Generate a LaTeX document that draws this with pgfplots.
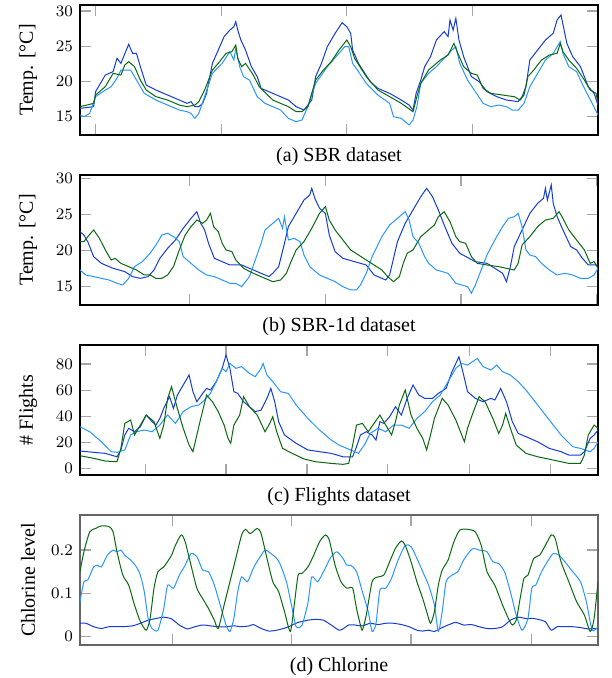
\documentclass[border=0pt]{standalone}
\usepackage{fontspec}
\setmainfont{Liberation Serif}
\usepackage{pgfplots}
\pgfplotsset{compat=1.18}
\definecolor{dblue}{RGB}{20,60,215}
\definecolor{lblue}{RGB}{40,150,255}
\definecolor{dgreen}{RGB}{10,105,15}
\pgfplotsset{panel/.style={
  scale only axis, width=259pt, height=65pt,
  xmin=205, xmax=1535,
  xticklabel=\empty,
  tick align=inside,
  major tick length=5.3pt,
  tick style={gray!70, line width=0.6pt},
  axis line style={line width=0.6pt},
  tick label style={font=\fontsize{8}{9}\selectfont},
  label style={font=\fontsize{10.4}{12}\selectfont},
  every axis y label/.style={at={(axis description cs:0,0.5)}, xshift=-26pt, rotate=90, anchor=center},
  every axis x label/.style={at={(axis description cs:0.5,0)}, yshift=-11pt, anchor=center},
  scaled y ticks=false,
  every axis plot/.append style={line width=0.5pt, no markers},
}}
\begin{document}
\begin{tikzpicture}
\path[use as bounding box] (-40pt,2.5pt) rectangle (265.5pt,-336.5pt);
% ---------------- (a)
\begin{axis}[panel, at={(0,0)}, anchor=north west,
  ymin=12.4, ymax=30.85, ytick={15,20,25,30},
  xtick={245,568,890,1213,1535},
  ylabel={Temp. [°C]}, xlabel={(a) SBR dataset}]
\addplot[dblue] coordinates {
(205,16.18)(240,16.42)(245,18.55)(270,20.91)(290,21.39)(300,23.28)(310,22.57)(330,25.27)(340,23.99)(350,23.99)
(360,22.10)(375,19.49)(400,18.78)(430,18.07)(460,17.36)(480,16.89)(490,17.13)(500,16.42)(510,16.42)(520,16.89)
(530,18.31)(545,22.57)(560,24.46)(575,26.36)(590,27.30)(600,27.77)(605,28.48)(610,27.30)(618,25.88)(630,24.46)
(645,22.10)(660,20.68)(670,19.02)(700,18.31)(740,17.36)(760,16.42)(780,15.94)(800,17.36)(810,20.68)(825,22.57)
(840,24.94)(860,26.83)(878,28.34)(890,27.77)(900,26.83)(905,24.46)(920,22.57)(950,19.97)(970,19.02)(1000,18.31)
(1030,17.36)(1050,16.65)(1060,15.94)(1068,18.31)(1080,20.20)(1090,22.10)(1105,23.52)(1120,25.88)(1140,27.07)(1150,26.36)
(1155,28.72)(1163,27.30)(1170,28.96)(1178,25.88)(1190,23.52)(1210,20.68)(1230,19.97)(1250,18.55)(1275,17.84)(1300,17.36)
(1330,17.13)(1340,17.84)(1350,19.26)(1360,23.04)(1380,24.46)(1400,25.88)(1420,26.83)(1430,28.72)(1440,29.43)(1448,27.30)
(1455,25.41)(1470,23.52)(1490,22.10)(1510,19.26)(1525,18.31)(1535,16.65)};
\addplot[lblue] coordinates {
(205,15.24)(215,15.00)(230,15.47)(245,17.84)(270,18.78)(285,19.26)(300,20.44)(310,21.62)(320,21.62)(335,21.62)
(350,20.20)(370,18.31)(400,17.36)(430,16.65)(460,15.94)(480,15.71)(490,15.47)(500,14.76)(510,15.47)(525,17.84)
(545,21.15)(570,22.57)(590,24.23)(600,23.04)(605,24.70)(615,22.10)(625,20.68)(640,20.20)(660,17.84)(680,16.89)
(720,15.94)(740,14.76)(760,14.29)(775,14.53)(790,16.42)(810,19.73)(840,22.10)(870,23.99)(885,24.94)(895,24.94)
(905,22.57)(920,21.39)(940,19.73)(970,18.07)(1000,16.89)(1010,15.00)(1030,14.76)(1050,13.82)(1060,14.53)(1070,16.42)
(1080,19.73)(1100,21.15)(1120,22.10)(1140,23.28)(1160,24.46)(1170,24.94)(1180,22.57)(1200,20.20)(1220,18.55)(1240,16.89)
(1260,16.42)(1280,16.65)(1300,16.42)(1315,15.94)(1330,15.94)(1345,16.89)(1360,19.26)(1380,21.15)(1400,23.04)(1420,23.99)
(1438,25.65)(1445,23.99)(1460,22.10)(1480,21.39)(1500,19.02)(1520,16.89)(1535,15.24)};
\addplot[dgreen] coordinates {
(205,16.42)(240,16.89)(245,18.07)(270,19.26)(290,21.15)(310,20.91)(320,22.33)(330,22.81)(345,22.10)(360,20.20)
(375,18.78)(400,17.84)(430,17.36)(460,16.65)(480,16.42)(500,16.65)(510,17.13)(525,18.78)(545,21.62)(560,22.57)
(580,23.99)(595,24.23)(605,25.17)(610,23.28)(620,22.10)(630,22.57)(650,20.91)(665,19.26)(700,17.36)(740,16.42)
(760,15.71)(775,15.71)(790,16.42)(810,20.20)(830,21.62)(850,22.81)(870,24.46)(890,25.88)(900,24.94)(910,23.28)
(940,20.68)(970,18.78)(1000,17.84)(1030,16.89)(1060,15.71)(1070,17.84)(1080,19.73)(1100,21.62)(1130,23.04)(1150,23.75)
(1165,25.41)(1175,23.99)(1190,22.10)(1210,21.15)(1225,20.91)(1240,19.02)(1260,18.31)(1290,18.07)(1320,17.84)(1335,17.36)
(1345,18.07)(1355,20.68)(1370,21.62)(1390,23.04)(1410,23.75)(1430,23.99)(1438,25.41)(1445,24.23)(1460,23.04)(1480,21.86)
(1500,20.20)(1515,18.78)(1530,18.31)(1535,16.89)};
\end{axis}
% ---------------- (b)
\begin{axis}[panel, at={(0,-85pt)}, anchor=north west,
  ymin=12.46, ymax=30.46, ytick={15,20,25,30},
  xtick={487,835,1183,1531},
  ylabel={Temp. [°C]}, xlabel={(b) SBR-1d dataset}]
\addplot[dblue] coordinates {
(205,22.62)(215,22.15)(225,21.23)(240,19.15)(260,18.23)(290,17.54)(320,17.08)(340,16.39)(360,16.15)(380,16.39)
(395,17.31)(410,18.92)(430,20.31)(450,21.46)(470,23.08)(490,24.46)(505,25.38)(515,23.77)(525,22.85)(535,21.00)
(550,18.92)(570,18.46)(590,18.00)(620,18.00)(650,17.31)(670,16.85)(690,16.39)(700,16.85)(715,17.77)(730,21.00)
(740,23.31)(760,25.15)(780,27.00)(795,27.69)(800,28.62)(808,27.23)(820,25.85)(835,25.15)(845,22.15)(860,19.85)
(880,18.92)(910,18.46)(940,18.00)(960,16.62)(980,16.15)(990,15.92)(1000,16.62)(1010,18.92)(1020,21.23)(1040,23.77)
(1060,25.62)(1080,27.46)(1095,28.62)(1110,27.46)(1125,25.62)(1140,23.54)(1160,21.00)(1180,19.62)(1220,18.46)(1250,18.23)
(1270,17.54)(1290,16.85)(1300,15.69)(1310,17.77)(1320,20.54)(1340,22.85)(1360,25.15)(1380,26.54)(1395,27.23)(1400,28.62)
(1405,27.00)(1415,29.08)(1420,26.54)(1430,24.69)(1445,22.85)(1465,20.54)(1480,20.08)(1495,18.92)(1510,18.00)(1535,18.00)};
\addplot[lblue] coordinates {
(205,17.31)(220,16.62)(240,16.39)(260,16.15)(280,15.92)(300,15.46)(315,15.23)(330,16.15)(345,17.77)(365,18.46)
(385,19.62)(400,20.77)(415,22.15)(430,22.39)(445,21.92)(460,21.23)(470,19.15)(490,18.23)(510,17.31)(530,16.62)
(550,16.39)(570,15.92)(590,15.46)(605,15.46)(620,15.00)(640,16.39)(655,18.69)(670,21.00)(680,22.85)(700,23.77)
(715,24.46)(725,23.08)(730,24.69)(740,21.46)(755,21.69)(770,21.23)(780,19.39)(795,17.77)(820,16.62)(840,16.15)
(860,15.69)(880,15.00)(900,14.54)(915,14.54)(925,15.23)(940,16.85)(955,19.15)(980,21.92)(1000,23.54)(1020,24.46)
(1040,25.38)(1050,24.23)(1060,21.92)(1075,21.00)(1090,19.15)(1100,18.23)(1120,17.31)(1150,16.85)(1170,15.46)(1185,15.23)
(1200,15.00)(1210,14.08)(1220,15.23)(1235,17.31)(1250,19.39)(1270,21.46)(1290,23.31)(1305,24.46)(1320,24.69)(1330,25.15)
(1340,23.31)(1350,20.08)(1360,19.39)(1375,19.15)(1390,18.23)(1410,17.31)(1430,16.62)(1450,16.85)(1470,16.62)(1490,16.15)
(1510,16.15)(1525,16.62)(1535,17.54)};
\addplot[dgreen] coordinates {
(205,21.23)(215,21.23)(225,21.92)(240,22.85)(255,21.69)(270,20.08)(285,18.69)(295,18.92)(310,18.23)(330,17.77)
(350,17.31)(370,16.62)(385,16.62)(400,16.15)(415,16.15)(430,16.62)(445,17.77)(460,20.08)(475,22.15)(490,23.31)
(505,24.23)(520,23.77)(530,24.23)(540,25.15)(548,23.31)(560,22.62)(570,21.00)(580,20.08)(595,19.85)(605,18.69)
(625,17.54)(650,16.85)(680,16.15)(700,15.69)(720,15.92)(735,16.85)(745,18.23)(760,20.08)(780,21.23)(800,23.08)
(820,25.15)(835,26.08)(845,24.23)(860,22.85)(880,21.46)(900,20.08)(920,19.39)(940,18.69)(960,18.00)(980,17.31)
(995,16.39)(1010,15.69)(1025,16.39)(1035,18.23)(1045,19.62)(1060,20.08)(1080,21.92)(1100,22.85)(1115,23.54)(1125,24.69)
(1140,25.38)(1155,24.00)(1170,21.92)(1180,21.23)(1195,21.00)(1210,19.15)(1225,18.23)(1250,18.00)(1280,17.77)(1300,17.54)
(1320,17.31)(1330,18.23)(1340,20.77)(1360,21.92)(1380,23.31)(1400,24.23)(1420,24.46)(1435,25.38)(1445,24.46)(1460,22.85)
(1480,21.46)(1500,20.08)(1515,18.23)(1525,18.46)(1535,17.54)};
\end{axis}
% ---------------- (c)
\begin{axis}[panel, at={(0,-170pt)}, anchor=north west,
  ymin=-5.1, ymax=94.6, ytick={0,20,40,60,80},
  xtick={373,580,788,995,1205,1412},
  ylabel={\# Flights}, xlabel={(c) Flights dataset}]
\addplot[dblue] coordinates {
(205,13.3)(240,12.3)(270,11.5)(300,8.9)(310,14.1)(320,25.6)(330,30.7)(345,28.1)(360,31.9)(375,40.9)
(390,35.8)(400,33.2)(410,38.3)(420,46.0)(435,55.0)(445,46.0)(455,56.2)(470,63.9)(485,71.6)(495,58.8)
(505,51.1)(520,57.5)(530,61.3)(540,60.1)(555,66.5)(570,76.7)(580,86.9)(590,76.7)(600,58.8)(610,57.5)
(625,51.1)(640,47.3)(655,43.5)(670,44.7)(685,53.7)(695,61.3)(705,51.1)(715,35.8)(730,25.6)(760,19.2)
(790,14.1)(820,12.8)(850,11.5)(880,8.9)(905,8.9)(915,16.6)(925,25.6)(940,28.1)(955,25.6)(965,21.7)
(975,35.8)(985,34.5)(1000,39.6)(1015,47.3)(1030,40.9)(1045,53.7)(1060,63.9)(1075,56.2)(1090,53.7)(1110,53.7)
(1125,57.5)(1145,61.3)(1160,74.1)(1178,85.6)(1188,74.1)(1200,58.8)(1220,53.7)(1240,51.1)(1260,53.7)(1270,52.4)
(1285,61.3)(1300,51.1)(1315,35.8)(1330,26.8)(1350,24.3)(1380,20.4)(1410,15.3)(1440,12.8)(1460,10.2)(1490,10.2)
(1500,12.8)(1515,23.0)(1525,25.6)(1535,29.4)};
\addplot[lblue] coordinates {
(205,31.9)(230,28.1)(260,20.4)(285,12.8)(300,12.3)(320,14.1)(335,25.6)(350,28.1)(370,29.4)(390,28.1)
(410,33.2)(430,40.9)(450,34.5)(470,43.5)(490,47.3)(510,48.6)(525,52.4)(540,57.5)(555,66.5)(570,76.7)
(580,74.1)(590,80.5)(605,76.7)(620,78.0)(640,72.8)(655,70.3)(670,76.7)(675,80.5)(685,71.6)(700,66.5)
(720,58.8)(740,57.5)(760,48.6)(790,38.3)(820,29.4)(850,21.7)(870,17.9)(890,15.3)(910,12.8)(920,11.5)
(935,17.9)(950,26.8)(970,30.7)(990,28.1)(1010,33.2)(1030,33.2)(1050,30.7)(1070,38.3)(1090,43.5)(1110,51.1)
(1130,56.2)(1150,66.5)(1170,76.7)(1185,80.5)(1200,79.2)(1225,84.3)(1240,78.0)(1260,75.4)(1275,79.2)(1290,74.1)
(1310,71.6)(1330,66.5)(1350,60.1)(1380,48.6)(1410,37.1)(1440,25.6)(1470,16.6)(1490,15.3)(1515,12.8)(1525,15.3)
(1535,20.4)};
\addplot[dgreen] coordinates {
(205,9.7)(240,7.7)(270,5.6)(300,5.1)(310,15.3)(320,34.5)(335,37.1)(345,25.6)(360,33.2)(375,40.9)
(395,35.8)(410,23.0)(420,33.2)(430,53.7)(440,62.6)(455,46.0)(470,30.7)(485,17.9)(495,12.8)(505,25.6)
(515,38.3)(530,56.2)(545,51.1)(560,43.5)(575,33.2)(585,23.0)(592,19.2)(600,33.2)(615,40.9)(625,55.0)
(640,47.3)(660,40.9)(680,28.1)(690,33.2)(700,39.6)(710,28.1)(725,15.3)(750,11.5)(780,7.2)(810,5.1)
(850,3.8)(880,3.1)(895,3.8)(905,17.9)(915,33.2)(930,34.5)(945,28.1)(960,34.5)(975,40.9)(990,33.2)
(1005,25.6)(1015,35.8)(1025,48.6)(1040,60.1)(1055,40.9)(1070,30.7)(1085,23.0)(1095,14.1)(1105,25.6)(1115,38.3)
(1135,53.7)(1150,48.6)(1170,37.1)(1185,25.6)(1192,20.4)(1200,30.7)(1215,43.5)(1230,55.0)(1245,51.1)(1265,38.3)
(1280,26.8)(1290,33.2)(1298,42.2)(1310,30.7)(1325,17.9)(1350,11.5)(1380,8.9)(1420,6.4)(1460,3.8)(1490,3.8)
(1500,10.2)(1510,25.6)(1525,33.2)(1535,30.7)};
\end{axis}
% ---------------- (d)
\begin{axis}[panel, at={(0,-255pt)}, anchor=north west,
  axis line style={black!60, line width=0.8pt},
  ymin=-0.0192, ymax=0.281, ytick={0,0.1,0.2},
  xtick={442,748,1055,1365},
  ylabel={Chlorine level}, xlabel={(d) Chlorine},
  every axis plot/.append style={smooth, tension=0.4}]
\addplot[dblue] coordinates {
(205,0.031)(220,0.031)(240,0.023)(260,0.019)(280,0.023)(310,0.023)(340,0.025)(360,0.031)(380,0.038)(400,0.042)
(420,0.045)(440,0.041)(460,0.027)(480,0.018)(500,0.023)(520,0.027)(540,0.025)(560,0.023)(580,0.023)(600,0.025)
(620,0.023)(640,0.025)(650,0.028)(670,0.019)(690,0.013)(710,0.015)(735,0.021)(750,0.027)(765,0.033)(790,0.038)
(810,0.040)(830,0.038)(850,0.027)(870,0.015)(880,0.018)(895,0.027)(910,0.027)(930,0.025)(950,0.031)(970,0.028)
(990,0.031)(1010,0.031)(1030,0.028)(1050,0.023)(1070,0.015)(1085,0.013)(1100,0.015)(1115,0.012)(1130,0.019)(1150,0.027)
(1170,0.033)(1190,0.027)(1210,0.028)(1230,0.023)(1250,0.019)(1270,0.019)(1290,0.023)(1310,0.038)(1330,0.045)(1350,0.042)
(1370,0.042)(1390,0.038)(1400,0.035)(1415,0.015)(1430,0.023)(1450,0.023)(1470,0.023)(1490,0.021)(1510,0.018)(1535,0.019)};
\addplot[lblue] coordinates {
(205,0.081)(215,0.127)(225,0.131)(240,0.161)(250,0.165)(260,0.161)(275,0.188)(290,0.200)(300,0.196)(310,0.200)
(320,0.188)(335,0.177)(350,0.161)(360,0.142)(370,0.104)(380,0.042)(390,0.019)(405,0.015)(420,0.065)(430,0.119)
(445,0.112)(460,0.142)(475,0.165)(490,0.192)(505,0.185)(520,0.154)(535,0.150)(550,0.119)(565,0.073)(580,0.027)
(590,0.012)(600,0.042)(610,0.104)(620,0.138)(635,0.127)(650,0.158)(665,0.181)(680,0.200)(695,0.192)(710,0.181)
(720,0.165)(735,0.127)(748,0.073)(760,0.023)(775,0.027)(790,0.077)(800,0.138)(815,0.127)(830,0.150)(850,0.185)
(865,0.196)(880,0.181)(890,0.165)(900,0.165)(915,0.150)(930,0.104)(945,0.058)(955,0.012)(965,0.031)(975,0.108)
(990,0.112)(1005,0.135)(1020,0.173)(1040,0.211)(1055,0.208)(1070,0.181)(1085,0.150)(1100,0.119)(1115,0.073)(1125,0.012)
(1135,0.058)(1145,0.127)(1160,0.142)(1175,0.150)(1190,0.177)(1205,0.196)(1215,0.204)(1230,0.200)(1250,0.196)(1265,0.173)
(1280,0.169)(1295,0.150)(1310,0.104)(1325,0.050)(1340,0.015)(1355,0.042)(1365,0.112)(1375,0.119)(1390,0.150)(1405,0.173)
(1420,0.192)(1435,0.188)(1450,0.173)(1470,0.150)(1490,0.127)(1505,0.081)(1520,0.015)(1535,0.023)};
\addplot[dgreen] coordinates {
(205,0.150)(215,0.196)(230,0.242)(245,0.250)(260,0.256)(280,0.254)(290,0.242)(300,0.196)(315,0.142)(330,0.119)
(345,0.073)(360,0.035)(375,0.015)(385,0.042)(395,0.112)(405,0.150)(420,0.161)(440,0.188)(450,0.211)(465,0.235)
(475,0.219)(490,0.165)(505,0.112)(520,0.088)(535,0.065)(550,0.038)(560,0.019)(575,0.073)(590,0.127)(605,0.181)
(620,0.235)(630,0.248)(642,0.238)(660,0.250)(670,0.238)(685,0.181)(700,0.127)(715,0.104)(730,0.058)(745,0.012)
(755,0.073)(765,0.142)(775,0.146)(790,0.161)(805,0.188)(820,0.219)(835,0.235)(845,0.223)(860,0.165)(875,0.127)
(890,0.112)(905,0.112)(915,0.065)(925,0.027)(930,0.015)(940,0.050)(955,0.127)(970,0.138)(985,0.142)(1000,0.173)
(1015,0.204)(1030,0.221)(1040,0.211)(1055,0.173)(1070,0.127)(1085,0.088)(1095,0.058)(1105,0.031)(1115,0.058)(1125,0.119)
(1135,0.154)(1150,0.177)(1165,0.219)(1180,0.246)(1200,0.248)(1220,0.242)(1235,0.211)(1250,0.150)(1270,0.119)(1290,0.073)
(1305,0.042)(1315,0.027)(1325,0.038)(1335,0.088)(1345,0.135)(1355,0.142)(1370,0.181)(1385,0.188)(1400,0.211)(1415,0.235)
(1425,0.227)(1440,0.173)(1460,0.127)(1480,0.081)(1500,0.050)(1515,0.012)(1525,0.042)(1535,0.127)};
\end{axis}
\end{tikzpicture}
\end{document}
